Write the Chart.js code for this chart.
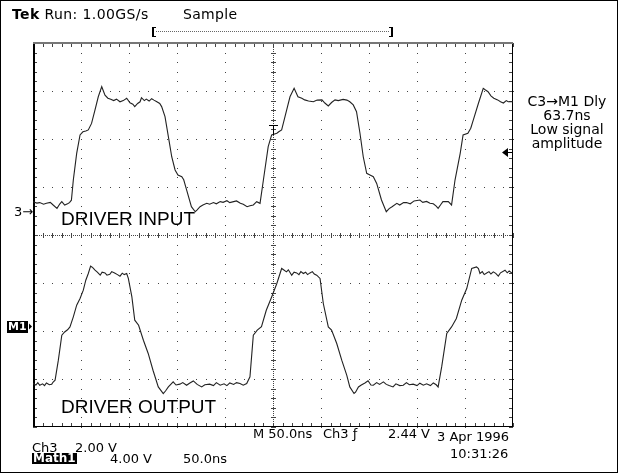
<!DOCTYPE html>
<html>
<head>
<meta charset="utf-8">
<script src="https://cdn.jsdelivr.net/npm/chart.js@4/dist/chart.umd.min.js"></script>
<style>
  body { margin: 0; background: #fff; }
  #wrap { position: relative; width: 618px; height: 473px; overflow: hidden; }
  #scope { position: absolute; left: 0; top: 0; }
  .lbl { position: absolute; font-family: "DejaVu Sans", sans-serif; font-size: 13px; line-height: 13px; color: #000; white-space: pre; }
  .big { font-family: "Liberation Sans", Arial, sans-serif; font-size: 19px; line-height: 19px; }
  .inv { background: #000; color: #fff; font-weight: bold; padding: 0 1px; }
</style>
</head>
<body>
<div id="wrap">
  <canvas id="scope" width="618" height="473"></canvas>
  <div class="lbl" style="left:12px;top:7px;font-size:14px;line-height:14px;letter-spacing:0.4px"><b>Tek</b> Run: 1.00GS/s</div>
  <div class="lbl" style="left:183px;top:7px;font-size:14px;line-height:14px;letter-spacing:0.3px">Sample</div>
  <div class="lbl" style="left:516px;top:94px;width:102px;text-align:center;font-size:14px;line-height:14px">C3→M1 Dly
63.7ns
Low signal
amplitude</div>
  <div class="lbl" style="left:14px;top:205px">3→</div>
  <div class="lbl inv" style="left:7px;top:321px;font-size:11px;line-height:12px">M1</div>
  <div class="lbl big" style="left:61px;top:209px">DRIVER INPUT</div>
  <div class="lbl big" style="left:61px;top:397px">DRIVER OUTPUT</div>
  <div class="lbl" style="left:253px;top:427px">M 50.0ns</div>
  <div class="lbl" style="left:323px;top:427px">Ch3 ƒ</div>
  <div class="lbl" style="left:388px;top:427px">2.44 V</div>
  <div class="lbl" style="left:437px;top:430px">3 Apr 1996</div>
  <div class="lbl" style="left:450px;top:447px">10:31:26</div>
  <div class="lbl" style="left:32px;top:441px">Ch3</div>
  <div class="lbl" style="left:75px;top:441px">2.00 V</div>
  <div class="lbl inv" style="left:32px;top:453px;font-size:12px;line-height:11px">Math1</div>
  <div class="lbl" style="left:110px;top:452px">4.00 V</div>
  <div class="lbl" style="left:183px;top:452px">50.0ns</div>
</div>
<script>
// time in ns (50 ns/div, 10 divisions)
const ch3Time = [0, 4, 7, 11, 14, 18, 21, 25, 28, 30, 33, 36, 38, 40, 42, 45.5, 49, 52, 55, 57.6, 61, 64.6, 68, 71.6, 75, 78, 81, 84, 87, 90.6, 94, 97.6, 101, 104, 106, 109, 111.5, 113, 116, 118, 121, 123.6, 126, 129, 132, 134, 137.5, 141, 144.5, 148, 151, 155, 157, 160, 165, 169, 171, 174, 177, 181, 184, 188, 191, 195, 198, 202, 205, 209, 212, 216, 219, 223, 226, 229.5, 233, 236.5, 240, 245, 248.6, 254, 256, 259, 262.5, 267.7, 272, 276, 280, 283, 287, 292, 296, 301, 304, 307.6, 311, 314.6, 318, 323, 327, 330, 333.6, 337, 340.6, 344, 347.6, 351, 354.5, 358, 363, 368, 371, 374, 379, 382, 386, 389, 393, 397, 403, 406, 410, 413.5, 417, 420, 422, 425, 427, 432.6, 436, 439.6, 445, 448, 453, 456, 458.6, 464, 469, 471, 474, 477, 480, 484, 487, 490, 493, 495, 500];
// Ch3 volts (2.00 V/div)
const ch3Volts = [0.39, 0.33, 0.35, 0.28, 0.32, 0.36, 0.25, 0.11, 0.30, 0.39, 0.25, 0.30, 0.35, 0.45, 1.29, 2.40, 3.17, 3.30, 3.33, 3.38, 3.65, 4.21, 4.76, 5.18, 4.83, 4.70, 4.66, 4.60, 4.66, 4.55, 4.60, 4.70, 4.51, 4.45, 4.35, 4.48, 4.55, 4.72, 4.60, 4.66, 4.58, 4.68, 4.62, 4.55, 4.48, 4.35, 3.93, 3.10, 2.26, 1.71, 1.50, 1.43, 1.30, 0.88, 0.18, -0.03, 0.05, 0.18, 0.25, 0.32, 0.28, 0.35, 0.30, 0.39, 0.36, 0.43, 0.35, 0.39, 0.42, 0.32, 0.28, 0.18, 0.22, 0.25, 0.39, 0.32, 1.29, 2.68, 3.17, 3.24, 3.30, 3.38, 3.93, 4.76, 5.11, 4.76, 4.70, 4.63, 4.58, 4.55, 4.62, 4.63, 4.50, 4.38, 4.52, 4.63, 4.60, 4.65, 4.62, 4.55, 4.42, 4.14, 3.24, 2.26, 1.57, 1.50, 1.43, 1.15, 0.46, -0.03, 0.10, 0.18, 0.32, 0.25, 0.35, 0.35, 0.30, 0.42, 0.46, 0.36, 0.40, 0.32, 0.30, 0.20, 0.11, 0.28, 0.39, 0.39, 0.25, 1.29, 2.40, 3.17, 3.24, 3.45, 3.79, 4.49, 5.11, 5.05, 4.97, 4.80, 4.70, 4.63, 4.55, 4.50, 4.60, 4.55, 4.55];

const m1Time = [0, 3, 5, 7, 10, 12, 14, 17, 19.5, 21, 23, 26.4, 30, 33, 36, 38.5, 42, 45.5, 49, 52.4, 55, 57.6, 60, 62, 64.6, 67, 70, 72, 75, 77, 80, 82, 85, 88, 90.6, 93, 95, 97.6, 99.3, 103, 106, 110, 115, 120, 125, 130.5, 135.7, 138, 141, 144, 146, 149, 153, 156, 160, 163, 167, 171, 175.7, 179, 184, 188, 191, 195, 199, 202, 205, 209, 212, 215.6, 219, 222.6, 226, 229.5, 233.6, 238, 243, 248.6, 254, 259, 261, 264, 266, 269.5, 272, 274.7, 277, 279, 281.6, 284, 286, 288.5, 291, 293, 295.5, 299, 302.4, 307.6, 311, 316.4, 321.6, 326.8, 330, 334.4, 336, 339, 342, 345.8, 349, 352, 354.5, 358, 361, 365, 368, 371, 375, 378, 382, 385.7, 389, 392, 396, 400, 403, 406.6, 410, 414, 417, 420, 422, 425.7, 431, 436, 441, 446.6, 451.8, 457, 462, 464, 465.6, 468, 470, 472.6, 475, 477, 479.5, 482, 484.7, 487, 491.7, 494, 496, 499];
// Math1 volts (4.00 V/div)
const m1Volts = [-4.78, -4.90, -4.70, -4.92, -4.80, -4.95, -4.73, -4.88, -4.83, -4.65, -4.5, -2.83, -0.75, -0.48, -0.30, -0.06, 0.78, 1.75, 2.31, 3.0, 3.83, 4.39, 5.0, 4.90, 4.67, 4.50, 4.25, 4.50, 4.44, 4.25, 4.33, 4.55, 4.44, 4.30, 4.17, 4.42, 4.30, 4.39, 3.98, 2.44, 0.5, 0.08, -1.17, -2.27, -3.67, -5.06, -5.61, -5.40, -5.06, -4.80, -4.64, -4.90, -4.83, -4.70, -4.92, -4.75, -4.56, -4.85, -5.06, -4.88, -4.83, -4.95, -4.70, -4.92, -4.80, -4.95, -4.73, -4.85, -4.70, -4.78, -4.92, -4.78, -4.22, -0.75, -0.33, -0.04, 1.33, 2.44, 3.56, 4.81, 4.70, 4.53, 4.70, 4.25, 4.50, 4.44, 4.30, 4.55, 4.39, 4.50, 4.30, 4.44, 4.55, 4.35, 4.25, 3.98, 1.89, -0.06, -0.33, -1.44, -2.83, -4.08, -5.06, -5.61, -5.50, -5.06, -4.90, -4.73, -4.55, -4.90, -4.92, -4.70, -4.85, -4.64, -4.85, -4.95, -5.06, -4.80, -4.95, -4.92, -4.70, -4.88, -4.83, -4.95, -4.75, -4.92, -4.80, -4.95, -4.73, -4.88, -5.06, -3.39, -0.61, -0.06, 0.64, 2.17, 3.14, 4.81, 4.94, 4.80, 4.39, 4.55, 4.30, 4.44, 4.55, 4.35, 4.53, 4.40, 4.17, 4.45, 4.67, 4.45, 4.60, 4.42];

const triggerLevel = 2.44; // Ch3 volts

const toPoints = (t, v) => t.map((x, i) => ({ x: x, y: v[i] }));

// Tek style graticule: dotted grid, dense centre cross, ticked frame
const graticule = {
    id: 'graticule',
    beforeDatasetsDraw(chart) {
        const ctx = chart.ctx;
        const xs = chart.scales.x, ys = chart.scales.y3;
        const a = chart.chartArea;
        ctx.save();
        ctx.fillStyle = '#fff';
        ctx.fillRect(0, 0, chart.width, chart.height);
        ctx.fillStyle = '#444';
        const minorX = [], minorY = [];
        for (let t = 0; t <= 500; t += 10) minorX.push(Math.round(xs.getPixelForValue(t)));
        for (let v = -9; v <= 7.001; v += 0.4) minorY.push(Math.round(ys.getPixelForValue(v)));
        // grid dots
        for (let k = 1; k < 10; k++) {
            if (k === 5) continue;
            const x = Math.round(xs.getPixelForValue(k * 50));
            minorY.forEach(y => ctx.fillRect(x, y, 1, 1));
        }
        for (let k = 1; k < 8; k++) {
            if (k === 4) continue;
            const y = Math.round(ys.getPixelForValue(-9 + k * 2));
            minorX.forEach(x => ctx.fillRect(x, y, 1, 1));
        }
        // centre cross
        const cx = Math.round(xs.getPixelForValue(250));
        const cy = Math.round(ys.getPixelForValue(-1));
        for (let y = a.top; y < a.bottom; y += 2) ctx.fillRect(cx, y, 1, 1);
        for (let x = a.left; x < a.right; x += 2) ctx.fillRect(x, cy, 1, 1);
        minorY.forEach(y => ctx.fillRect(cx - 2, y, 5, 1));
        minorX.forEach(x => ctx.fillRect(x, cy - 2, 1, 5));
        // frame ticks
        minorX.forEach(x => { ctx.fillRect(x, a.top, 1, 4); ctx.fillRect(x, a.bottom - 4, 1, 4); });
        minorY.forEach(y => { ctx.fillRect(a.left, y, 4, 1); ctx.fillRect(a.right - 4, y, 4, 1); });
        // frame
        ctx.fillStyle = '#000';
        ctx.fillRect(a.left, a.top, 2, a.bottom - a.top);
        ctx.fillRect(a.right - 1, a.top, 1, a.bottom - a.top);
        ctx.fillRect(a.left, a.bottom - 1, a.right - a.left, 1);
        ctx.fillStyle = '#777';
        ctx.fillRect(a.left, a.top - 1, a.right - a.left, 2);
        ctx.restore();
    },
    afterDatasetsDraw(chart) {
        const ctx = chart.ctx;
        const xs = chart.scales.x, ys = chart.scales.y3;
        const a = chart.chartArea;
        ctx.save();
        ctx.fillStyle = '#000';
        ctx.strokeStyle = '#000';
        // outer picture border
        ctx.lineWidth = 1;
        ctx.strokeRect(0.5, 0.5, chart.width - 1, chart.height - 1);
        // record window bracket
        ctx.fillRect(152, 27, 2, 10); ctx.fillRect(152, 27, 4, 1); ctx.fillRect(152, 36, 4, 1);
        ctx.fillRect(391, 27, 2, 10); ctx.fillRect(389, 27, 4, 1); ctx.fillRect(389, 36, 4, 1);
        ctx.fillStyle = '#666';
        for (let x = 156; x < 389; x += 2) ctx.fillRect(x, 31, 1, 1);
        // trigger position "T"
        ctx.fillStyle = '#000';
        const tx = Math.round(xs.getPixelForValue(250));
        const ty = Math.round(ys.getPixelForValue(3.6));
        ctx.fillRect(tx - 4, ty, 9, 1);
        ctx.fillRect(tx, ty, 1, 10);
        // trigger level arrow on right edge
        const ly = Math.round(ys.getPixelForValue(triggerLevel));
        ctx.beginPath();
        ctx.moveTo(a.right - 11, ly + 0.5);
        ctx.lineTo(a.right - 5, ly - 4);
        ctx.lineTo(a.right - 5, ly + 5);
        ctx.closePath();
        ctx.fill();
        ctx.fillRect(a.right - 5, ly, 4, 1);
        // M1 ground marker arrow
        const my = Math.round(chart.scales.ym.getPixelForValue(0));
        ctx.beginPath();
        ctx.moveTo(a.left - 1, my + 0.5);
        ctx.lineTo(a.left - 4, my - 2.5);
        ctx.lineTo(a.left - 4, my + 3.5);
        ctx.closePath();
        ctx.fill();
        ctx.restore();
    }
};

new Chart(document.getElementById('scope').getContext('2d'), {
    type: 'scatter',
    data: {
        datasets: [{
            label: 'Ch3',
            data: toPoints(ch3Time, ch3Volts),
            yAxisID: 'y3',
            showLine: true,
            borderColor: '#222',
            borderWidth: 1.1,
            pointRadius: 0,
            tension: 0
        }, {
            label: 'Math1',
            data: toPoints(m1Time, m1Volts),
            yAxisID: 'ym',
            showLine: true,
            borderColor: '#222',
            borderWidth: 1.1,
            pointRadius: 0,
            tension: 0
        }]
    },
    options: {
        responsive: false,
        animation: false,
        layout: { padding: { left: 33, top: 43, right: 105, bottom: 46 } },
        plugins: {
            legend: { display: false },
            tooltip: { enabled: false }
        },
        scales: {
            x: { type: 'linear', min: 0, max: 500, display: false },
            y3: { type: 'linear', min: -9, max: 7, display: false },
            ym: { type: 'linear', min: -8.4, max: 23.6, display: false }
        }
    },
    plugins: [graticule]
});
</script>
</body>
</html>
